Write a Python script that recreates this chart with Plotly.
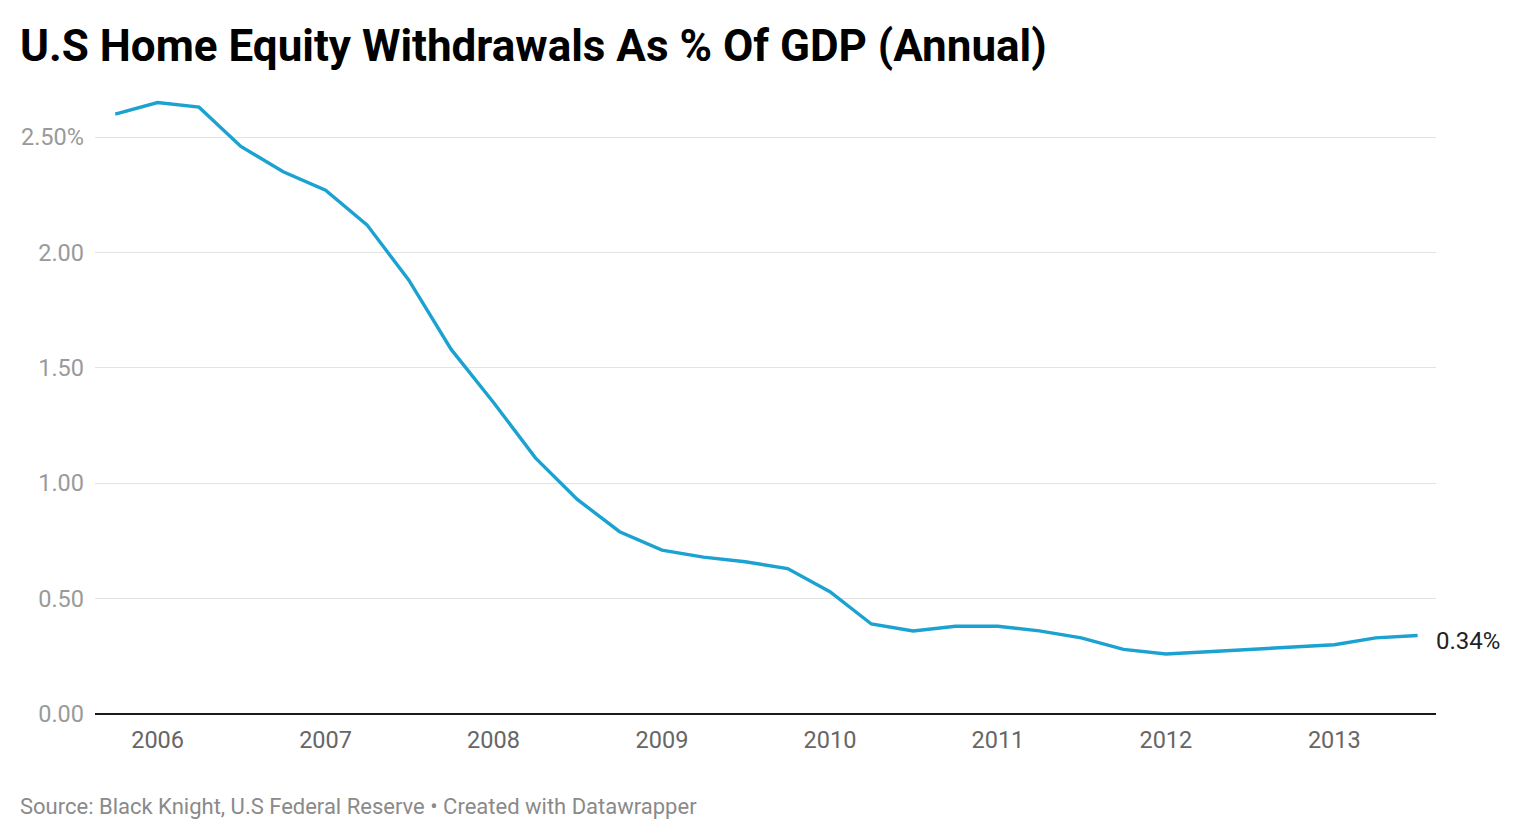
import plotly.graph_objects as go

dates = ["2005-10-01", "2006-01-01", "2006-04-01", "2006-07-01", "2006-10-01",
         "2007-01-01", "2007-04-01", "2007-07-01", "2007-10-01",
         "2008-01-01", "2008-04-01", "2008-07-01", "2008-10-01",
         "2009-01-01", "2009-04-01", "2009-07-01", "2009-10-01",
         "2010-01-01", "2010-04-01", "2010-07-01", "2010-10-01",
         "2011-01-01", "2011-04-01", "2011-07-01", "2011-10-01",
         "2012-01-01", "2012-04-01", "2012-07-01", "2012-10-01",
         "2013-01-01", "2013-04-01", "2013-07-01"]
values = [2.60, 2.65, 2.63, 2.46, 2.35,
          2.27, 2.12, 1.88, 1.58,
          1.35, 1.11, 0.93, 0.79,
          0.71, 0.68, 0.66, 0.63,
          0.53, 0.39, 0.36, 0.38,
          0.38, 0.36, 0.33, 0.28,
          0.26, 0.27, 0.28, 0.29,
          0.30, 0.33, 0.34]
y_tickvals = [0, 0.5, 1.0, 1.5, 2.0, 2.5]
y_ticktext = ["0.00", "0.50", "1.00", "1.50", "2.00", "2.50%"]
x_tickvals = ["2006-01-01", "2007-01-01", "2008-01-01", "2009-01-01",
              "2010-01-01", "2011-01-01", "2012-01-01", "2013-01-01"]
x_ticktext = ["2006", "2007", "2008", "2009", "2010", "2011", "2012", "2013"]

title = "U.S Home Equity Withdrawals As % Of GDP (Annual)"
source = "Source: Black Knight, U.S Federal Reserve • Created with Datawrapper"
end_label = "0.34%"

FONT = "Roboto"
L, R, T, B = 87, 112, 83, 134
PW = 1540 - L - R
PH = 840 - T - B

fig = go.Figure()
fig.add_trace(go.Scatter(
    x=dates, y=values, mode="lines",
    line=dict(color="#1ba2d0", width=3.4),
    hoverinfo="x+y",
))

fig.update_layout(
    width=1540, height=840,
    paper_bgcolor="white", plot_bgcolor="white",
    margin=dict(l=L, r=R, t=T, b=B),
    showlegend=False,
    font=dict(family=FONT),
    xaxis=dict(
        type="date",
        range=["2005-08-18", "2013-08-10"],
        tickvals=x_tickvals, ticktext=x_ticktext,
        showgrid=False, zeroline=False,
        showline=False, ticks="",
        tickfont=dict(family=FONT, size=23.5, color="#666666"),
        ticklabelstandoff=9,
    ),
    yaxis=dict(
        range=[0, 2.7],
        tickvals=y_tickvals, ticktext=y_ticktext,
        showgrid=True, gridcolor="#e3e3e3", gridwidth=1.3,
        zeroline=True, zerolinecolor="#1a1a1a", zerolinewidth=2,
        showline=False, ticks="",
        tickfont=dict(family=FONT, size=23.5, color="#9a9a9a"),
        ticklabelstandoff=10,
    ),
    annotations=[
        dict(text="<b>" + title + "</b>", xref="paper", yref="paper",
             x=(10 - L) / PW, y=1 + (91 - 46) / PH, xanchor="left", yanchor="middle",
             showarrow=False, font=dict(family=FONT, size=44, color="#000000")),
        dict(text=source, xref="paper", yref="paper",
             x=(10 - L) / PW, y=-(806 - 714) / PH, xanchor="left", yanchor="middle",
             showarrow=False, font=dict(family=FONT, size=22, color="#8a8a8a")),
        dict(text=end_label, x=dates[-1], y=values[-1], xref="x", yref="y",
             xanchor="left", yanchor="middle", xshift=16, yshift=-5,
             showarrow=False, font=dict(family=FONT, size=24, color="#222222")),
    ],
)

fig.write_html("out.html")
